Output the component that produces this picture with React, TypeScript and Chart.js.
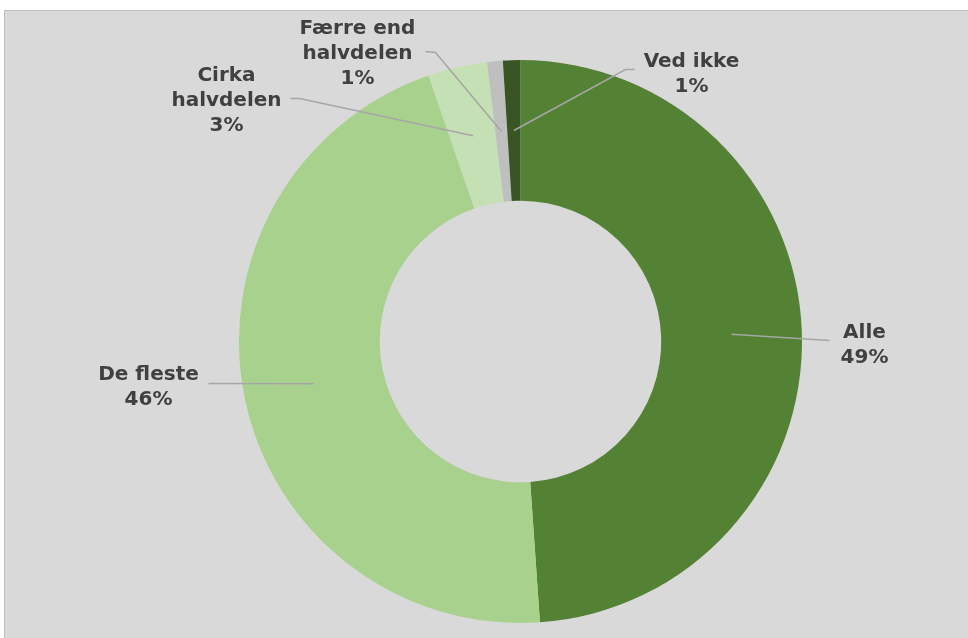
import React, { useEffect, useRef } from "react";
import { Chart, registerables } from "chart.js";

Chart.register(...registerables);

const categories = ["Alle", "De fleste", "Cirka\nhalvdelen", "Færre end\nhalvdelen", "Ved ikke"];
const values = [48.9, 45.8, 3.4, 0.9, 1.0];
const colors = ["#548235", "#A9D18E", "#C5E0B4", "#BFBFBF", "#375623"];

// label placement relative to the doughnut centre (text block centre, leader elbow/end)
const labelPlacement = [
  { tx: 344, ty: 1, pts: [[309, -1]] },
  { tx: -372, ty: 43, pts: [[-312, 42]] },
  { tx: -294, ty: -243, pts: [[-221, -243], [-230, -243]] },
  { tx: -163, ty: -290, pts: [[-85, -289], [-95, -290]] },
  { tx: 171, ty: -270, pts: [[105, -272], [114, -272]] },
];

const labelPlugin = {
  id: "leaderLabels",
  afterDatasetsDraw(chart: any) {
    const ctx = chart.ctx;
    const meta = chart.getDatasetMeta(0);
    ctx.save();
    meta.data.forEach((arc: any, i: number) => {
      const p = arc.getProps(["x", "y", "startAngle", "endAngle", "innerRadius", "outerRadius"], true);
      const mid = (p.startAngle + p.endAngle) / 2;
      const r = (p.innerRadius + p.outerRadius) / 2;
      const sx = p.x + r * Math.cos(mid);
      const sy = p.y + r * Math.sin(mid);
      const pl = labelPlacement[i];
      ctx.beginPath();
      ctx.moveTo(sx, sy);
      pl.pts.forEach(([dx, dy]) => ctx.lineTo(p.x + dx, p.y + dy));
      ctx.strokeStyle = "#A6A6A6";
      ctx.lineWidth = 1.5;
      ctx.stroke();

      const lines = categories[i].split("\n").concat([Math.round(values[i]) + "%"]);
      const lh = 25;
      ctx.fillStyle = "#404040";
      ctx.font = "bold 20px 'DejaVu Sans', Verdana, sans-serif";
      ctx.textAlign = "center";
      ctx.textBaseline = "alphabetic";
      const cx = p.x + pl.tx;
      const cy = p.y + pl.ty;
      lines.forEach((t, k) => {
        const ly = cy + (k - (lines.length - 1) / 2) * lh;
        ctx.fillText(t, cx, ly + 7.5);
      });
    });
    ctx.restore();
  },
};

export default function App() {
  const ref = useRef<HTMLCanvasElement | null>(null);
  useEffect(() => {
    if (!ref.current) return;
    const chart = new Chart(ref.current, {
      type: "doughnut",
      data: {
        labels: categories,
        datasets: [
          {
            data: values,
            backgroundColor: colors,
            borderWidth: 0,
            hoverOffset: 0,
            offset: 0,
          },
        ],
      },
      options: {
        animation: false,
        responsive: true,
        maintainAspectRatio: false,
        cutout: "50%",
        layout: { padding: { top: 49, bottom: 15, left: 234, right: 166 } },
        plugins: {
          legend: { display: false },
          tooltip: { enabled: false },
        },
        events: [],
      },
      plugins: [labelPlugin],
    });
    return () => chart.destroy();
  }, []);
  return (
    <div
      style={{
        position: "absolute",
        left: 4,
        top: 10,
        width: 964,
        height: 628,
        boxSizing: "border-box",
        borderTop: "1px solid #BFBFBF",
        borderLeft: "1px solid #BFBFBF",
        background: "#D9D9D9",
        overflow: "hidden",
      }}
    >
      <div style={{ position: "relative", width: 963, height: 627 }}>
        <canvas ref={ref} />
      </div>
    </div>
  );
}
